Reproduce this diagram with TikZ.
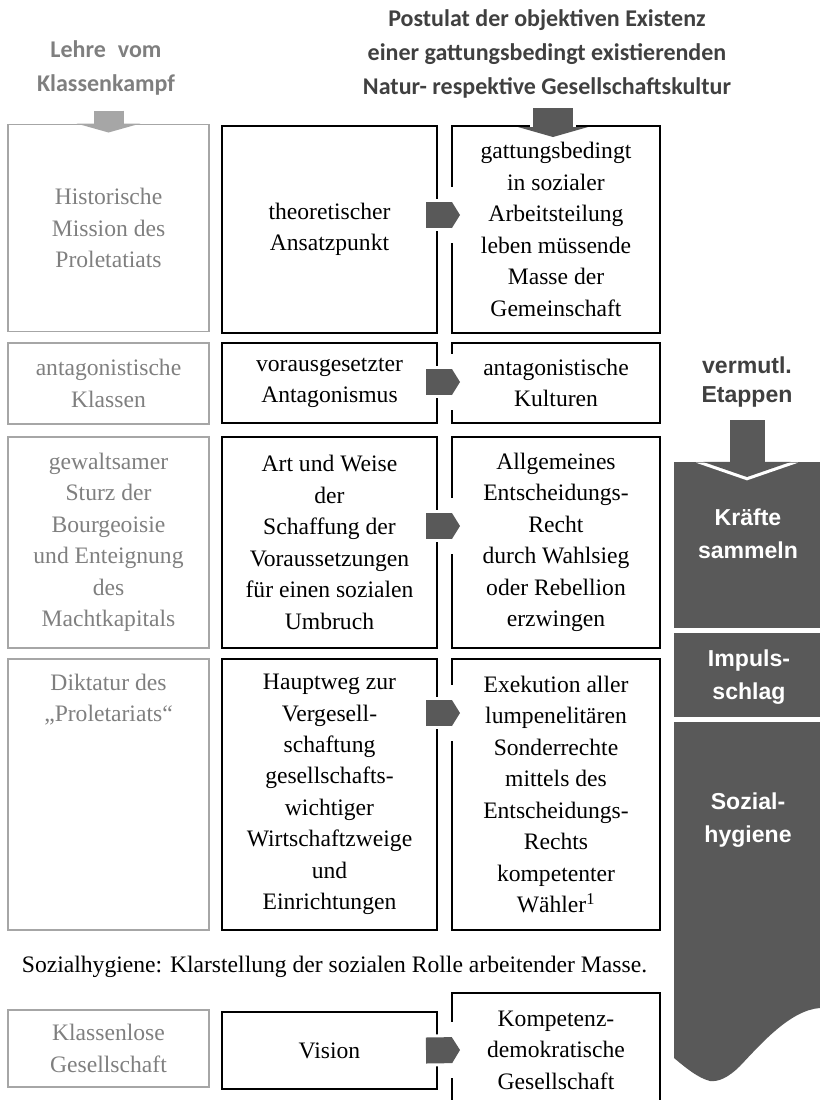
\documentclass[tikz,border=0pt]{standalone}
\usepackage{fontspec}
\setmainfont{Liberation Serif}
\newfontfamily\headfont{Carlito}
\newfontfamily\bandfont{Liberation Sans}
\usetikzlibrary{arrows.meta,calc,positioning}
\definecolor{schemeGray}{HTML}{7F7F7F}
\definecolor{schemeLine}{HTML}{A6A6A6}
\definecolor{schemeDark}{HTML}{595959}
\definecolor{schemeHead}{HTML}{404040}
\tikzset{
    cellBase/.style 2 args={
        rectangle,
        inner sep=0pt,
        outer sep=0pt,
        align=center,
        minimum width=#1*0.75pt,
        minimum height=#2*0.75pt,
        font=\fontsize{17.7}{23.6}\selectfont
    },
    % Cell variants
    lcell/.style 2 args={cellBase={#1}{#2}, draw=schemeLine, line width=0.9pt, text=schemeGray},
    bcell/.style 2 args={cellBase={#1}{#2}, draw=black, line width=1.5pt},
    ltext/.style={inner sep=0pt, align=center, text=schemeGray, font=\fontsize{17.7}{23.6}\selectfont},
    headtext/.style={inner sep=0pt, align=center, font=\headfont\bfseries\fontsize{18}{25.5}\selectfont},
    % Stages on the right
    stage/.style 2 args={rectangle, inner sep=0pt, outer sep=0pt, fill=schemeDark,
        minimum width=#1*0.75pt, minimum height=#2*0.75pt},
    stagetext/.style={inner sep=0pt, align=center, text=white,
        font=\bandfont\bfseries\fontsize{17.3}{24.75}\selectfont},
    % Arrows
    flowarr/.style={draw=schemeDark, line width=19.5pt,
        -{Triangle[length=0pt 0.31, width=0pt 1, line width=0pt]},
        preaction={draw=white, line width=24pt, shorten >=-2.5pt, shorten <=-2.5pt}},
    greyarr/.style={draw=schemeLine, line width=22.5pt,
        -{Triangle[length=0pt 0.3, width=0pt 2.13, line width=0pt]},
        preaction={draw=white, line width=27pt, shorten >=-2.5pt}},
    darkarr/.style={draw=schemeDark, line width=30pt,
        -{Triangle[length=0pt 0.25, width=0pt 1.75, line width=0pt]},
        preaction={draw=white, line width=34.5pt, shorten >=-2.5pt}},
    stagearr/.style={draw=schemeDark, line width=26.25pt,
        -{Triangle[length=0pt 0.43, width=0pt 2.49, line width=0pt]},
        preaction={draw=white, line width=30.75pt, shorten >=-2.5pt}}
}
% middle cell -> right cell, #3 = vertical offset from the row centre
\newcommand{\flowarrow}[3]{%
    \draw[white, line width=3pt] ($(#2.west)+(0,#3-28)$) -- ($(#2.west)+(0,#3+28)$);
    \draw[flowarr] ($(#1.east)+(-11,#3)$) -- ($(#2.west)+(8,#3)$);
}

\begin{document}
\begin{tikzpicture}[x=0.75pt, y=-0.75pt]
\clip (0,0) rectangle (820,1100);

% headings
\node[headtext, text=schemeGray] (lehre) at (106,67.5) {Lehre\enspace vom\\Klassenkampf};
\node[headtext, text=schemeHead] (postulat) at (547,54) {Postulat der objektiven Existenz\\einer gattungsbedingt existierenden\\Natur- respektive Gesellschaftskultur};

% left column
\node[lcell={201}{207}] (l1) at (108.5,228) {Historische\\Mission des\\Proletatiats};
\node[lcell={201}{81}] (l2) at (108.5,383.5) {antagonistische\\Klassen};
\node[lcell={201}{211}] (l3) at (108.5,542.5) {gewaltsamer\\Sturz der\\Bourgeoisie\\und Enteignung\\des\\Machtkapitals};
\node[lcell={201}{271}] (l4) at (108.5,794.5) {};
\node[ltext] (l4t) at ($(l4.north)+(0,40.5)$) {Diktatur des\\„Proletariats“};
\node[lcell={201}{77}] (l5) at (108.5,1048.5) {Klassenlose\\Gesellschaft};

% middle column
\node[bcell={215}{207}] (m1) at (329.5,229.5) {theoretischer\\Ansatzpunkt};
\node[bcell={215}{80}] (m2) at (329.5,383) {vorausgesetzter\\Antagonismus};
\node[bcell={215}{211}] (m3) at (329.5,542.5) {Art und Weise\\der\\Schaffung der\\Voraussetzungen\\für einen sozialen\\Umbruch};
\node[bcell={215}{271}] (m4) at (329.5,794.5) {Hauptweg zur\\Vergesell-\\schaftung\\gesellschafts-\\wichtiger\\Wirtschaftzweige\\und\\Einrichtungen};
\node[bcell={215}{77}] (m5) at (329.5,1050.5) {Vision};

% right column
\node[bcell={208}{207}] (r1) at (556,229.5) {gattungsbedingt\\in sozialer\\Arbeitsteilung\\leben müssende\\Masse der\\Gemeinschaft};
\node[bcell={208}{80}] (r2) at (556,383) {antagonistische\\Kulturen};
\node[bcell={208}{211}] (r3) at (556,542.5) {Allgemeines\\Entscheidungs-\\Recht\\durch Wahlsieg\\oder Rebellion\\erzwingen};
\node[bcell={208}{271}] (r4) at (556,794.5) {Exekution aller\\lumpenelitären\\Sonderrechte\\mittels des\\Entscheidungs-\\Rechts\\kompetenter\\Wähler\textsuperscript{1}};
\node[bcell={208}{114}] (r5) at (556,1050) {Kompetenz-\\demokratische\\Gesellschaft};

\node[inner sep=0pt, font=\fontsize{17.7}{23.6}\selectfont] (note) at (334.5,967) {Sozialhygiene: Klarstellung der sozialen Rolle arbeitender Masse.};

% arrows from the headings
\draw[greyarr] ($(l1.north)+(0,-14)$) -- ($(l1.north)+(0,8)$);
\draw[darkarr] ($(r1.north)+(-3,-18)$) -- ($(r1.north)+(-3,11)$);

% arrows between the columns
\flowarrow{m1}{r1}{-14.5}
\flowarrow{m2}{r2}{-1}
\flowarrow{m3}{r3}{-16.5}
\flowarrow{m4}{r4}{-81.5}
\flowarrow{m5}{r5}{0}

% stages
\node[text=schemeHead, inner sep=0pt, align=center,
      font=\bandfont\bfseries\fontsize{17.3}{21.75}\selectfont] (etappen) at (747,382.5) {vermutl.\\Etappen};
\node[stage={146}{166}] (k1) at (747,545) {};
\node[stage={146}{84}] (k2) at (747,675) {};
\fill[schemeDark] (674,722) -- (820,722) -- (820,1008)
    .. controls (790,1010) and (760,1045) .. (740,1066)
    .. controls (728,1078) and (718,1082) .. (710,1081)
    .. controls (698,1078) and (686,1068) .. (674,1058) -- cycle;
\node[stagetext] (k1t) at (748,534) {Kräfte\\sammeln};
\node[stagetext] (k2t) at (749,677.5) {Impuls-\\schlag};
\node[stagetext] (k3t) at (748,820) {Sozial-\\hygiene};
\draw[stagearr] ($(k1.north)+(0,-42)$) -- ($(k1.north)+(0,15)$);
\end{tikzpicture}
\end{document}
